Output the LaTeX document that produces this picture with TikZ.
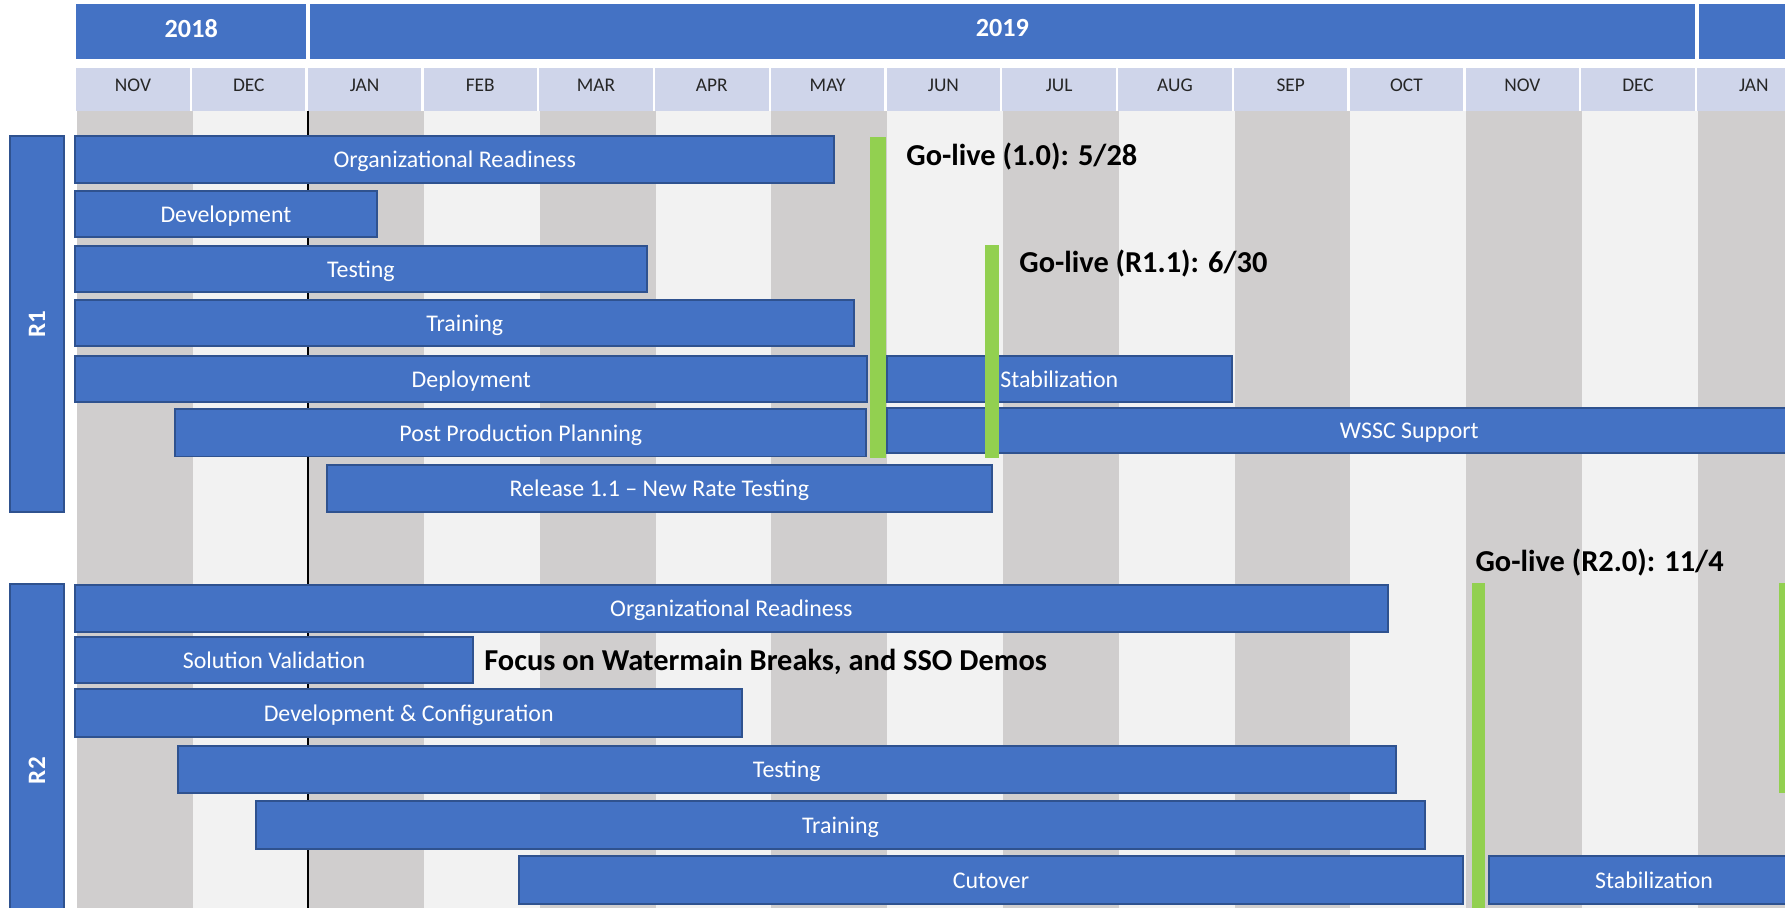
\documentclass[tikz,border=0pt]{standalone}
\usepackage{fontspec}
\setmainfont{Carlito}
\definecolor{barblue}{HTML}{4472C4}
\definecolor{barborder}{HTML}{2F528F}
\definecolor{hdrblue}{HTML}{CFD5EA}
\definecolor{stripegray}{HTML}{D0CECE}
\definecolor{stripelight}{HTML}{F2F2F2}
\definecolor{golivegreen}{HTML}{92D050}
\definecolor{monthtext}{HTML}{262626}
\newcommand{\placebox}[7]{%
  \pgfmathsetmacro\gbW{(#5)-(#3)}%
  \pgfmathsetmacro\gbH{(#6)-(#4)}%
  \pgfmathsetmacro\gbX{((#3)+(#5))/2}%
  \pgfmathsetmacro\gbY{((#4)+(#6))/2}%
  \node[#1, minimum width=\gbW pt, minimum height=\gbH pt] (#2) at (\gbX,\gbY) {#7};}
\begin{document}
\begin{tikzpicture}[x=1pt,y=-1pt,
  bar/.style={draw=barborder, fill=barblue, line width=1.7pt, text=white, inner sep=0pt,
    text height=14.5pt, text depth=0pt, font=\fontsize{21}{25}\selectfont},
  rbox/.style={draw=barborder, fill=barblue, line width=1.7pt, inner sep=0pt},
  rlabel/.style={rotate=90, text=white, inner sep=0pt, font=\bfseries\fontsize{22}{26}\selectfont},
  yearbox/.style={fill=barblue, inner sep=0pt},
  yearlabel/.style={inner sep=0pt, text=white, font=\bfseries\fontsize{23}{27}\selectfont},
  monthbox/.style={fill=hdrblue, inner sep=0pt},
  monthlabel/.style={inner sep=0pt, text=monthtext, font=\fontsize{17}{20}\selectfont},
  greenbar/.style={fill=golivegreen, inner sep=0pt},
  golive/.style={anchor=base west, inner sep=0pt, text=black, font=\bfseries\fontsize{26.7}{32}\selectfont}]
\useasboundingbox (0,0) rectangle (1568,797);
\clip (0,0) rectangle (1568,797);
\fill[white] (0,0) rectangle (1568,797);
% background stripes
\fill[stripelight] (67.5,97.2) rectangle (1570,800);
\foreach \i in {0,2,...,14}
  \fill[stripegray] ({67.5+101.7*\i},97.2) rectangle ({67.5+101.7*(\i+1)},800);
% years
\placebox{yearbox}{y2018}{67}{3.5}{269}{52}{}
\node[yearlabel] (t2018) at ([yshift=3pt]y2018.center) {2018};
\placebox{yearbox}{y2019}{272}{3.5}{1489}{52}{}
\node[yearlabel] (t2019) at ([yshift=3pt]y2019.center) {2019};
\placebox{yearbox}{y2020}{1492}{3.5}{1700}{52}{}
% months
\foreach \m [count=\i from 0] in {NOV,DEC,JAN,FEB,MAR,APR,MAY,JUN,JUL,AUG,SEP,OCT,NOV,DEC,JAN}{
  \pgfmathsetmacro\mx{67+101.7*\i}
  \placebox{monthbox}{m\i}{\mx}{59.5}{\mx+99.6}{97.2}{}
  \node[monthlabel] (ml\i) at ([yshift=3.7pt]m\i.center) {\m};
}
% year boundary line
\coordinate (jantop) at (270.6,97.2);
\coordinate (janbot) at (270.6,800);
\draw[line width=2pt, black] (jantop) -- (janbot);
% release boxes
\placebox{rbox}{r1box}{8.4}{119.5}{56.5}{449.5}{}
\node[rlabel] (r1text) at (r1box.center) {R1};
\placebox{rbox}{r2box}{8.4}{513}{56.5}{841}{}
\node[rlabel] (r2text) at (r2box.center) {R2};
% R1 bars
\placebox{bar}{r1org}{66}{119.5}{733}{160.5}{Organizational Readiness}
\placebox{bar}{r1dev}{66}{167.5}{331}{208.5}{Development}
\placebox{bar}{r1test}{66}{216}{568}{256.5}{Testing}
\placebox{bar}{r1train}{66}{263.5}{750.5}{304}{Training}
\placebox{bar}{r1deploy}{66}{312.5}{762}{353}{Deployment}
\placebox{bar}{r1stab}{779}{312.5}{1082}{353}{Stabilization}
\placebox{bar}{r1post}{154}{359.5}{761}{401}{Post Production Planning}
\placebox{bar}{r1wssc}{779}{358.7}{1697}{397.7}{WSSC Support}
\placebox{bar}{r1rel}{287.5}{408.5}{871}{449.5}{Release 1.1 – New Rate Testing}
% R2 bars
\placebox{bar}{r2org}{66}{513.5}{1219}{555}{Organizational Readiness}
\placebox{bar}{r2sol}{66}{559.5}{415.5}{600.3}{Solution Validation}
\placebox{bar}{r2dev}{66}{605.5}{652}{647}{Development \& Configuration}
\placebox{bar}{r2test}{156.3}{655.5}{1226}{696.5}{Testing}
\placebox{bar}{r2train}{224.6}{704}{1252}{745.5}{Training}
\placebox{bar}{r2cut}{456}{752}{1285}{794}{Cutover}
\placebox{bar}{r2stab}{1308}{752}{1598}{794}{Stabilization}
% go-live markers
\placebox{greenbar}{g10}{764.5}{120}{778}{402}{}
\placebox{greenbar}{g11}{865}{215.5}{877.4}{402}{}
\placebox{greenbar}{g20}{1293}{512}{1304.6}{800}{}
\placebox{greenbar}{g30}{1563}{512}{1575}{697}{}
\node[golive] (lab10) at (796,145) {Go-live (1.0): 5/28};
\node[golive] (lab11) at (895.3,239.5) {Go-live (R1.1): 6/30};
\node[golive] (lab20) at (1296,502) {Go-live (R2.0): 11/4};
\node[golive] (focus) at (425.3,589.2) {Focus on Watermain Breaks, and SSO Demos};
\end{tikzpicture}
\end{document}
